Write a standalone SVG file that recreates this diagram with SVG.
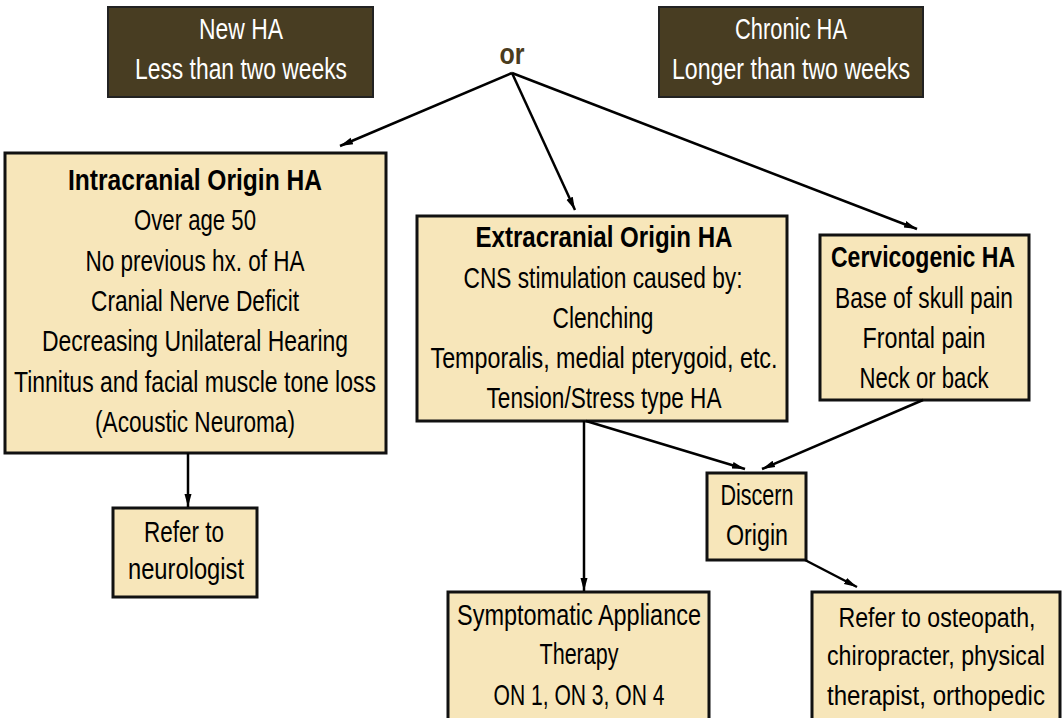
<svg xmlns="http://www.w3.org/2000/svg" width="1064" height="718" viewBox="0 0 1064 718">
<style>
text{font-family:"Liberation Sans Narrow","Liberation Sans",Arial,sans-serif;font-size:29px;text-anchor:middle;fill:#000}
.b{font-weight:bold}
.w{fill:#fff;font-size:29px}
.s{font-size:27px}
.box{fill:#f7e6ba;stroke:#111;stroke-width:3}
.fill{fill:#f7e6ba}
.edge{fill:none;stroke:#111;stroke-width:3}
.dark{fill:#483d22;stroke:#222;stroke-width:2}
.or{fill:#4a3c1e;font-weight:bold;font-size:29px}
.con line{stroke:#000;stroke-width:2.5;fill:none;marker-end:url(#ah)}
</style>
<defs>
<marker id="ah" markerUnits="userSpaceOnUse" markerWidth="14" markerHeight="10" refX="13" refY="5" orient="auto">
<path d="M0,1.5 L13,5 L0,8.5 Z" fill="#000"/>
</marker>
</defs>
<rect width="1064" height="718" fill="#fff"/>

<g id="new-ha">
<rect class="dark" x="108" y="7" width="265" height="90"/>
<text class="w" x="241" y="39" textLength="84" lengthAdjust="spacingAndGlyphs">New HA</text>
<text class="w" x="241" y="79" textLength="212" lengthAdjust="spacingAndGlyphs">Less than two weeks</text>
</g>

<g id="chronic-ha">
<rect class="dark" x="659" y="7" width="264" height="90"/>
<text class="w" x="791" y="39" textLength="112" lengthAdjust="spacingAndGlyphs">Chronic HA</text>
<text class="w" x="791" y="79" textLength="238" lengthAdjust="spacingAndGlyphs">Longer than two weeks</text>
</g>

<g id="or">
<text class="or" x="512" y="64" textLength="25" lengthAdjust="spacingAndGlyphs">or</text>
</g>

<g id="intracranial">
<rect class="box" x="5" y="153" width="381" height="300"/>
<text class="b" x="195" y="190" textLength="254" lengthAdjust="spacingAndGlyphs">Intracranial Origin HA</text>
<text x="195" y="230" textLength="122" lengthAdjust="spacingAndGlyphs">Over age 50</text>
<text x="195" y="271" textLength="219" lengthAdjust="spacingAndGlyphs">No previous hx. of HA</text>
<text x="195" y="311" textLength="208" lengthAdjust="spacingAndGlyphs">Cranial Nerve Deficit</text>
<text x="195" y="351" textLength="306" lengthAdjust="spacingAndGlyphs">Decreasing Unilateral Hearing</text>
<text x="195" y="392" textLength="362" lengthAdjust="spacingAndGlyphs">Tinnitus and facial muscle tone loss</text>
<text x="195" y="432" textLength="200" lengthAdjust="spacingAndGlyphs">(Acoustic Neuroma)</text>
</g>

<g id="extracranial">
<rect class="box" x="417" y="216" width="370" height="205"/>
<text class="b" x="604" y="247" textLength="257" lengthAdjust="spacingAndGlyphs">Extracranial Origin HA</text>
<text x="603" y="288" textLength="279" lengthAdjust="spacingAndGlyphs">CNS stimulation caused by:</text>
<text x="603" y="328" textLength="101" lengthAdjust="spacingAndGlyphs">Clenching</text>
<text x="604" y="368" textLength="347" lengthAdjust="spacingAndGlyphs">Temporalis, medial pterygoid, etc.</text>
<text x="604" y="408" textLength="235" lengthAdjust="spacingAndGlyphs">Tension/Stress type HA</text>
</g>

<g id="cervicogenic">
<rect class="box" x="820" y="235" width="209" height="165"/>
<text class="b" x="923" y="267" textLength="184" lengthAdjust="spacingAndGlyphs">Cervicogenic HA</text>
<text x="924" y="308" textLength="178" lengthAdjust="spacingAndGlyphs">Base of skull pain</text>
<text x="924" y="348" textLength="123" lengthAdjust="spacingAndGlyphs">Frontal pain</text>
<text x="924" y="388" textLength="129" lengthAdjust="spacingAndGlyphs">Neck or back</text>
</g>

<g id="discern">
<rect class="box" x="707" y="473" width="99" height="87"/>
<text x="757" y="505" textLength="73" lengthAdjust="spacingAndGlyphs">Discern</text>
<text x="757" y="545" textLength="62" lengthAdjust="spacingAndGlyphs">Origin</text>
</g>

<g id="neurologist">
<rect class="box" x="113" y="508" width="144" height="89"/>
<text x="184" y="542" textLength="80" lengthAdjust="spacingAndGlyphs">Refer to</text>
<text x="186" y="579" textLength="116" lengthAdjust="spacingAndGlyphs">neurologist</text>
</g>

<g id="symptomatic">
<rect class="fill" x="448" y="592" width="261" height="126"/>
<path class="edge" d="M448,718 V592 H709 V718"/>
<text x="579" y="625" textLength="244" lengthAdjust="spacingAndGlyphs">Symptomatic Appliance</text>
<text x="579" y="664" textLength="79" lengthAdjust="spacingAndGlyphs">Therapy</text>
<text x="579" y="705" textLength="171" lengthAdjust="spacingAndGlyphs">ON 1, ON 3, ON 4</text>
</g>

<g id="osteopath">
<rect class="fill" x="812" y="592" width="248" height="126"/>
<path class="edge" d="M812,718 V592 H1060 V718"/>
<text class="s" x="937" y="627" textLength="197" lengthAdjust="spacingAndGlyphs">Refer to osteopath,</text>
<text class="s" x="936" y="665" textLength="218" lengthAdjust="spacingAndGlyphs">chiropracter, physical</text>
<text class="s" x="936" y="705" textLength="218" lengthAdjust="spacingAndGlyphs">therapist, orthopedic</text>
</g>

<g id="connectors" class="con">
<line x1="512" y1="73" x2="340" y2="146"/>
<line x1="512" y1="73" x2="575" y2="210"/>
<line x1="512" y1="73" x2="917" y2="229"/>
<line x1="188" y1="453" x2="188" y2="507"/>
<line x1="584" y1="421" x2="584" y2="591"/>
<line x1="586" y1="421" x2="745" y2="469"/>
<line x1="923" y1="400" x2="762" y2="469"/>
<line x1="805" y1="560" x2="857" y2="587"/>
</g>
</svg>
